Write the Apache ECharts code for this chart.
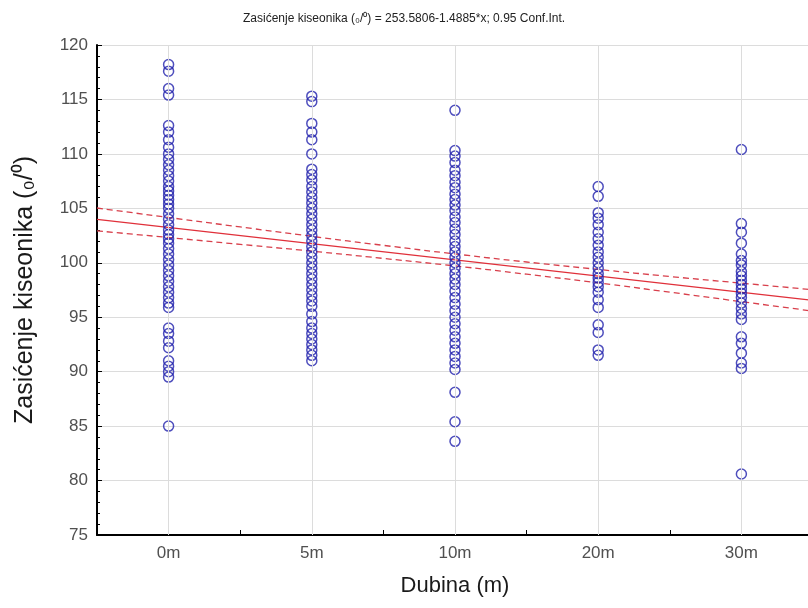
<!DOCTYPE html>
<html>
<head>
<meta charset="utf-8">
<title>Zasićenje kiseonika</title>
<script src="https://cdn.jsdelivr.net/npm/echarts@6/dist/echarts.min.js"></script>
<style>
  html, body { margin: 0; padding: 0; background: #ffffff; overflow: hidden; }
  #chart { width: 820px; height: 608px; }
</style>
</head>
<body>
<div id="chart"></div>
<script>
// Depth groups: numeric x position used by the regression and the label shown for it
const depthX = [101, 102, 103, 104, 105];
const depthLabels = ['0m', '5m', '10m', '20m', '30m'];

// Oxygen saturation readings for each depth
const sat0m = [118.2, 117.6, 116.0, 115.4,
  112.6, 112.0, 111.3, 110.6, 110.0, 109.5, 109.0, 108.5, 108.0, 107.5, 107.0, 106.6,
  106.2, 105.8, 105.4, 105.0, 104.5, 104.0, 103.5, 103.0, 102.6, 102.2, 101.8, 101.3,
  100.8, 100.3, 99.8, 99.3, 98.8, 98.3, 97.8, 97.3, 96.8, 96.3, 95.9,
  94.0, 93.5, 92.8, 92.2, 91.0, 90.5, 90.0, 89.5,
  85.0];
const sat5m = [115.3, 114.8, 112.8, 112.0, 111.3, 110.0,
  108.6, 108.1, 107.6, 107.0, 106.5, 106.0, 105.5, 105.0, 104.5, 104.0, 103.5, 103.0,
  102.5, 102.0, 101.5, 101.0, 100.5, 100.0, 99.5, 99.0, 98.5, 98.0, 97.5, 97.0, 96.5,
  96.0, 95.3, 94.6, 94.0, 93.5, 93.0, 92.5, 92.0, 91.5, 91.0];
const sat10m = [114.0,
  110.3, 109.8, 109.2, 108.5, 108.0, 107.4, 106.9, 106.3, 105.8, 105.3, 104.8, 104.2,
  103.7, 103.1, 102.6, 102.0, 101.5, 101.0, 100.5, 100.0, 99.5, 99.0, 98.5, 98.0, 97.4,
  96.8, 96.2, 95.6, 95.0, 94.4, 93.8, 93.2, 92.6, 92.0, 91.4, 90.8, 90.2,
  88.1, 85.4, 83.6];
const sat20m = [107.0, 106.1,
  104.6, 104.1, 103.5, 102.8, 102.2, 101.6, 101.0, 100.5, 100.0, 99.5, 99.0, 98.6,
  98.2, 97.8, 97.3, 96.6, 95.9,
  94.3, 93.6, 92.0, 91.5];
const sat30m = [110.4,
  103.6, 102.8, 101.8, 100.8, 100.2, 99.8, 99.2, 98.8, 98.4, 98.0, 97.6, 97.2, 96.8,
  96.3, 95.8, 95.3, 94.8,
  93.2, 92.6, 91.7, 90.8, 90.3,
  80.6];

// Fitted line from the stated equation
const intercept = 253.5806;
const slope = -1.4885;

// 0.95 confidence band, upper and lower limits along the x range
const bandX = [100.5, 101, 101.5, 102, 102.5, 103, 103.5, 104, 104.5, 105, 105.5];
const bandUpper = [105.03, 104.16, 103.29, 102.43, 101.60, 100.81, 100.07, 99.39, 98.74, 98.13, 97.52];
const bandLower = [102.93, 102.32, 101.69, 101.07, 100.40, 99.71, 98.95, 98.15, 97.30, 96.43, 95.56];

const xMin = 100.5, xMax = 105.5;
const yMin = 75, yMax = 120;

const groups = [sat0m, sat5m, sat10m, sat20m, sat30m];
const points = [];
groups.forEach((vals, i) => vals.forEach(v => points.push([depthX[i], v])));

const fitLine = [xMin, xMax].map(x => [x, intercept + slope * x]);
const upperLine = bandX.map((x, i) => [x, bandUpper[i]]);
const lowerLine = bandX.map((x, i) => [x, bandLower[i]]);

const labelFor = {};
depthX.forEach((x, i) => { labelFor[x] = depthLabels[i]; });

const chart = echarts.init(document.getElementById('chart'), null, { renderer: 'canvas' });

const fontFamily = 'Liberation Sans, Arial, sans-serif';

chart.setOption({
  backgroundColor: '#ffffff',
  animation: false,
  title: {
    text: 'Zasićenje kiseonika (₀/⁰) = 253.5806-1.4885*x; 0.95 Conf.Int.',
    left: 238,
    top: 8,
    textStyle: { fontSize: 12, fontWeight: 'normal', color: '#222', fontFamily: fontFamily }
  },
  // the plot runs slightly past the right edge of the visible window
  grid: { left: 97, right: 7, top: 45, bottom: 73, containLabel: false },
  xAxis: {
    type: 'value',
    min: xMin,
    max: xMax,
    interval: 0.5,
    name: 'Dubina (m)',
    nameLocation: 'middle',
    nameGap: 40,
    nameTextStyle: { fontSize: 22, color: '#1a1a1a', fontFamily: fontFamily },
    axisLine: { show: true, onZero: false, lineStyle: { color: '#000', width: 2 } },
    axisTick: { show: true, inside: true, length: 5, lineStyle: { color: '#000', width: 1 } },
    axisLabel: {
      show: true,
      margin: 10,
      fontSize: 17,
      color: '#505050',
      fontFamily: fontFamily,
      showMinLabel: false,
      showMaxLabel: false,
      formatter: v => labelFor[v] || ''
    },
    splitLine: { show: false }
  },
  yAxis: {
    type: 'value',
    min: yMin,
    max: yMax,
    interval: 5,
    name: 'Zasićenje kiseonika (₀/⁰)',
    nameLocation: 'middle',
    nameGap: 59,
    nameTextStyle: { fontSize: 25, color: '#1a1a1a', fontFamily: fontFamily },
    axisLine: { show: true, onZero: false, lineStyle: { color: '#000', width: 2 } },
    axisTick: { show: true, inside: true, length: 5, lineStyle: { color: '#000', width: 1 } },
    minorTick: { show: true, splitNumber: 5, length: 3, lineStyle: { color: '#000', width: 1 } },
    axisLabel: { margin: 9, fontSize: 17, color: '#505050', fontFamily: fontFamily },
    splitLine: { show: true, lineStyle: { color: '#dcdcdc', width: 1 } }
  },
  series: [
    {
      name: 'grid',
      type: 'line',
      data: [],
      silent: true,
      z: 0,
      markLine: {
        silent: true,
        symbol: 'none',
        label: { show: false },
        animation: false,
        lineStyle: { color: '#dcdcdc', width: 1, type: 'solid' },
        data: depthX.map(x => ({ xAxis: x }))
      }
    },
    {
      name: 'upper',
      type: 'line',
      data: upperLine,
      symbol: 'none',
      smooth: true,
      z: 3,
      lineStyle: { color: '#d8404c', width: 1.3, type: [6, 4] }
    },
    {
      name: 'lower',
      type: 'line',
      data: lowerLine,
      symbol: 'none',
      smooth: true,
      z: 3,
      lineStyle: { color: '#d8404c', width: 1.3, type: [6, 4] }
    },
    {
      name: 'fit',
      type: 'line',
      data: fitLine,
      symbol: 'none',
      z: 3,
      lineStyle: { color: '#e0303a', width: 1.3 }
    },
    {
      name: 'points',
      type: 'scatter',
      data: points,
      symbol: 'circle',
      symbolSize: 10,
      z: 4,
      itemStyle: { color: 'rgba(255,255,255,0)', borderColor: '#2222ac', borderWidth: 1.5 }
    }
  ]
});
</script>
</body>
</html>
